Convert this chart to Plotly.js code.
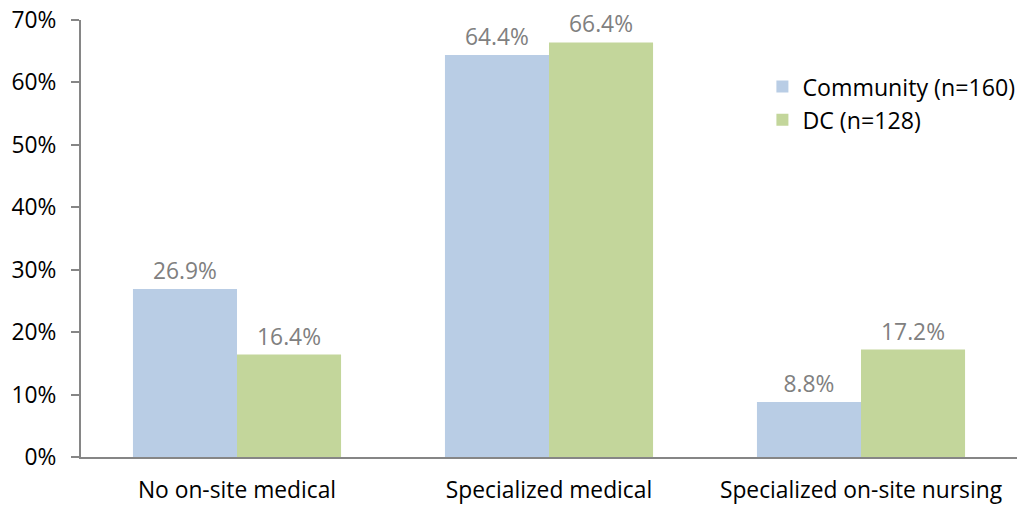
<!DOCTYPE html>
<html>
<head>
<meta charset="utf-8">
<script src="https://cdn.plot.ly/plotly-3.0.1.min.js"></script>
<style>
  html, body { margin: 0; padding: 0; background: #fff; }
  #chart { width: 1018px; height: 506px; }
</style>
</head>
<body>
<div id="chart"></div>
<script>
// Care setting categories and share of respondents per group
const categories = ["No on-site medical", "Specialized medical", "Specialized on-site nursing"];
const communityName = "Community (n=160)";
const communityValues = [26.9, 64.4, 8.8];
const dcName = "DC (n=128)";
const dcValues = [16.4, 66.4, 17.2];
const yTickValues = [0, 10, 20, 30, 40, 50, 60, 70];
const yTickLabels = ["0%", "10%", "20%", "30%", "40%", "50%", "60%", "70%"];

const FONT = "Open Sans, sans-serif";
const SIZE = 22.8;
const pct = v => v.toFixed(1) + "%";

const traces = [
  {
    type: "bar",
    name: communityName,
    x: categories,
    y: communityValues,
    text: communityValues.map(pct),
    textposition: "outside",
    textfont: { family: FONT, size: SIZE, color: "#808080" },
    marker: { color: "#B9CDE5" },
    cliponaxis: false,
    hoverinfo: "skip"
  },
  {
    type: "bar",
    name: dcName,
    x: categories,
    y: dcValues,
    text: dcValues.map(pct),
    textposition: "outside",
    textfont: { family: FONT, size: SIZE, color: "#808080" },
    marker: { color: "#C3D69B" },
    cliponaxis: false,
    hoverinfo: "skip"
  }
];

const layout = {
  width: 1018,
  height: 506,
  margin: { l: 81, r: 1, t: 19.5, b: 49, autoexpand: false },
  paper_bgcolor: "#ffffff",
  plot_bgcolor: "#ffffff",
  font: { family: FONT, size: SIZE, color: "#000000" },
  barmode: "group",
  bargap: 0.333,
  bargroupgap: 0,
  showlegend: true,
  legend: {
    x: 0.728, y: 0.897,
    xanchor: "left", yanchor: "top",
    font: { family: FONT, size: 23.2, color: "#000000" },
    bgcolor: "rgba(0,0,0,0)",
    tracegroupgap: 0,
    itemwidth: 30
  },
  xaxis: {
    type: "category",
    automargin: false,
    showline: true,
    linecolor: "#868686",
    linewidth: 2,
    ticks: "",
    ticklabelstandoff: 12,
    showgrid: false,
    zeroline: false,
    tickfont: { family: FONT, size: SIZE, color: "#000000" }
  },
  yaxis: {
    range: [0, 70],
    automargin: false,
    tickmode: "array",
    tickvals: yTickValues,
    ticktext: yTickLabels,
    showline: true,
    linecolor: "#868686",
    linewidth: 2,
    ticks: "outside",
    ticklen: 8,
    tickwidth: 2,
    tickcolor: "#868686",
    ticklabelstandoff: 10,
    showgrid: false,
    zeroline: false,
    tickfont: { family: FONT, size: SIZE, color: "#000000" }
  }
};

Plotly.newPlot("chart", traces, layout, { displayModeBar: false, staticPlot: true });
</script>
</body>
</html>
